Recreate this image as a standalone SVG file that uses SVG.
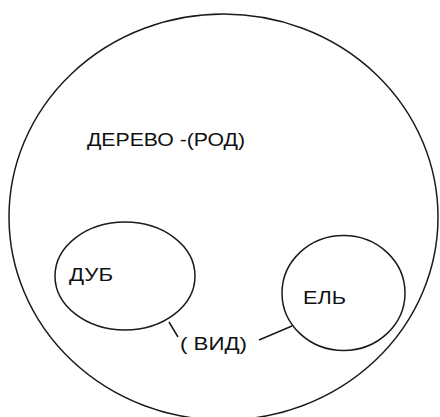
<svg xmlns="http://www.w3.org/2000/svg" width="440" height="417" viewBox="0 0 440 417">
<style>
.s{fill:none;stroke:#1a1a1a;stroke-width:1.5}
.t{font-family:"Liberation Sans",Arial,sans-serif;font-size:19px;fill:#111}
</style>
<rect width="440" height="417" fill="#fff"/>
<g id="derevo">
<ellipse class="s" cx="223.5" cy="217" rx="214.5" ry="203"/>
<text class="t" x="87" y="146" textLength="158" lengthAdjust="spacingAndGlyphs">ДЕРЕВО -(РОД)</text>
</g>
<g id="dub">
<ellipse class="s" cx="125" cy="276" rx="70" ry="54"/>
<text class="t" x="69" y="281" textLength="44" lengthAdjust="spacingAndGlyphs">ДУБ</text>
</g>
<g id="el">
<ellipse class="s" cx="343.5" cy="293" rx="61.5" ry="57.5"/>
<text class="t" x="303" y="304" textLength="43" lengthAdjust="spacingAndGlyphs">ЕЛЬ</text>
</g>
<g id="connectors">
<line class="s" x1="169" y1="322" x2="178" y2="337"/>
<line class="s" x1="259" y1="340" x2="292" y2="326"/>
<text class="t" x="180" y="350" textLength="67" lengthAdjust="spacingAndGlyphs">( ВИД)</text>
</g>
</svg>
